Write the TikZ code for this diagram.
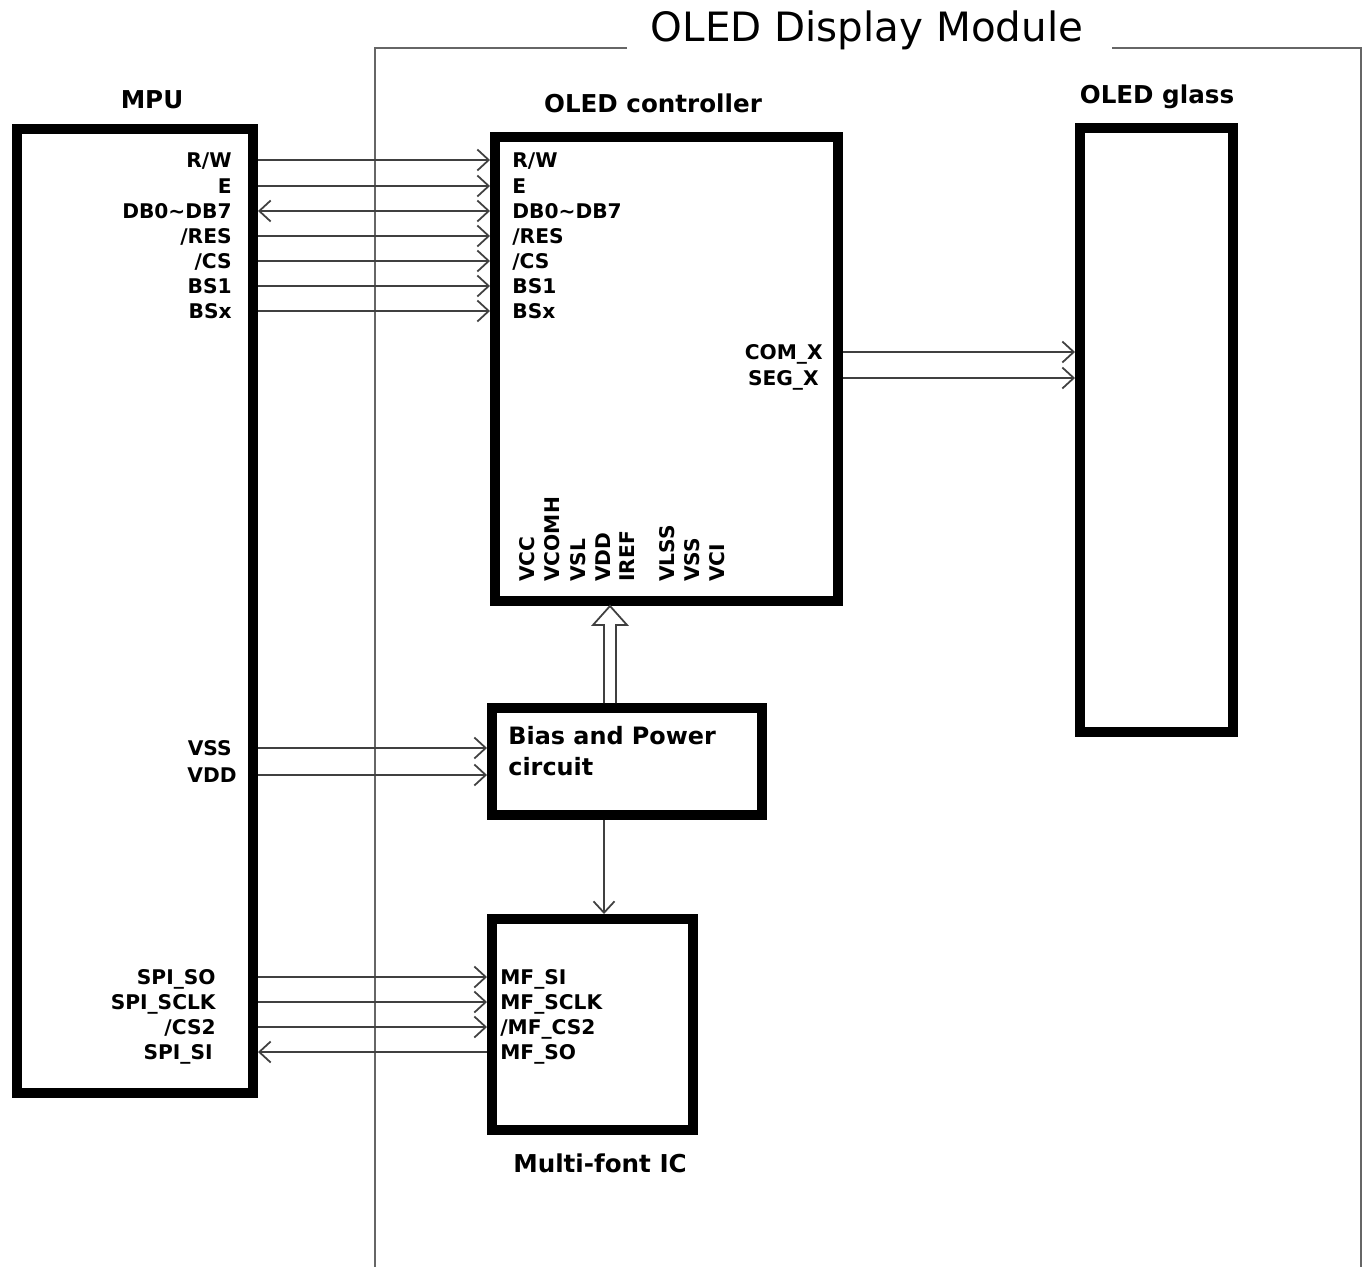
\documentclass[tikz,border=0pt]{standalone}
\usepackage{fontspec}
\setmainfont{DejaVu Sans}
\usepackage{tikz}
\usetikzlibrary{arrows.meta,calc}

\begin{document}
\begin{tikzpicture}[x=0.02cm,y=-0.02cm,
  box/.style={draw,line width=0.2cm,rectangle,inner sep=0pt},
  pin/.style={inner sep=0pt,font=\fontsize{11.5}{13}\selectfont\bfseries,text height=8.4pt,text depth=0pt},
  vpin/.style={pin,rotate=90,anchor=west},
  head/.style={inner sep=0pt,font=\fontsize{14}{16}\selectfont\bfseries},
  sig/.style={draw=black!75,line width=1pt},
  barb/.tip={Straight Barb[length=6.5pt,width=12pt]},
  frame/.style={draw=black!60,line width=1.2pt}]
\useasboundingbox (0,0) rectangle (1367,1267);
% module frame
\node[inner sep=0pt,font=\fontsize{23}{26}\selectfont] (title) at (867,30) {OLED Display Module};
\draw[frame] (627,48) -- (375,48) -- (375,1267);
\draw[frame] (1112,48) -- (1361,48) -- (1361,1267);
% blocks
\node[box,minimum width=4.72cm,minimum height=19.28cm] (mpu) at (135,611) {};
\node[box,minimum width=6.86cm,minimum height=9.28cm] (ctrl) at (666.5,369) {};
\node[box,minimum width=3.06cm,minimum height=12.08cm] (glass) at (1156.5,430) {};
\node[box,minimum width=5.4cm,minimum height=2.14cm] (bias) at (627,761.5) {};
\node[box,minimum width=4.02cm,minimum height=4.22cm] (mf) at (592.5,1024.5) {};
\node[head] (mpulbl) at (152,100) {MPU};
\node[head] (ctrllbl) at (653,103) {OLED controller};
\node[head] (glasslbl) at (1157,97) {OLED glass};
\node[head] (mflbl) at (600,1163) {Multi-font IC};
\node[inner sep=0pt,anchor=north west,align=left,font=\fontsize{13.6}{17.6}\selectfont\bfseries] (biastxt) at (508,726) {Bias and Power\\circuit};
% MPU <-> controller
\node[pin,anchor=east] (mrw) at (232,160) {R/W};
\node[pin,anchor=east] (me) at (232,186) {E};
\node[pin,anchor=east] (mdb) at (232,211) {DB0\textasciitilde DB7};
\node[pin,anchor=east] (mres) at (232,236) {/RES};
\node[pin,anchor=east] (mcs) at (232,261) {/CS};
\node[pin,anchor=east] (mbs1) at (232,286) {BS1};
\node[pin,anchor=east] (mbsx) at (232,311) {BSx};
\node[pin,anchor=west] (crw) at (512,160) {R/W};
\node[pin,anchor=west] (ce) at (512,186) {E};
\node[pin,anchor=west] (cdb) at (512,211) {DB0\textasciitilde DB7};
\node[pin,anchor=west] (cres) at (512,236) {/RES};
\node[pin,anchor=west] (ccs) at (512,261) {/CS};
\node[pin,anchor=west] (cbs1) at (512,286) {BS1};
\node[pin,anchor=west] (cbsx) at (512,311) {BSx};
\foreach \s in {mrw,me,mres,mcs,mbs1,mbsx}
  \draw[sig,-barb] (mpu.east |- \s) -- (ctrl.west |- \s);
\draw[sig,barb-barb] (mpu.east |- mdb) -- (ctrl.west |- mdb);
% controller -> glass
\node[pin,anchor=east] (com) at (823,352) {COM\_X};
\node[pin,anchor=east] (seg) at (819,378) {SEG\_X};
\draw[sig,-barb] (ctrl.east |- com) -- (glass.west |- com);
\draw[sig,-barb] (ctrl.east |- seg) -- (glass.west |- seg);
% power pins
\node[vpin] (vcc) at (527,582) {VCC};
\node[vpin] (vcomh) at (552,582) {VCOMH};
\node[vpin] (vsl) at (578,582) {VSL};
\node[vpin] (vdd) at (603,582) {VDD};
\node[vpin] (iref) at (627,582) {IREF};
\node[vpin] (vlss) at (667,582) {VLSS};
\node[vpin] (vss) at (692,582) {VSS};
\node[vpin] (vci) at (717,582) {VCI};
\coordinate (pwr) at ($(bias.north)+(-17,0)$);
\draw[sig,line join=miter] (pwr) ++(-6,0) -- ++(0,-78) -- ++(-11,0) -- ++(17,-19) -- ++(17,19) -- ++(-11,0) -- ++(0,78);
% MPU -> bias
\node[pin,anchor=east] (mvss) at (232,748) {VSS};
\node[pin,anchor=east] (mvdd) at (237,775) {VDD};
\draw[sig,-barb] (mpu.east |- mvss) -- (bias.west |- mvss);
\draw[sig,-barb] (mpu.east |- mvdd) -- (bias.west |- mvdd);
\coordinate (bm) at ($(bias.south)+(-23,0)$);
\draw[sig,-barb] (bm) -- (bm |- mf.north);
% MPU <-> multi-font IC
\node[pin,anchor=east] (mso) at (216,977) {SPI\_SO};
\node[pin,anchor=east] (msclk) at (216,1002) {SPI\_SCLK};
\node[pin,anchor=east] (mcs2) at (216,1027) {/CS2};
\node[pin,anchor=east] (msi) at (213,1052) {SPI\_SI};
\node[pin,anchor=west] (fsi) at (500,977) {MF\_SI};
\node[pin,anchor=west] (fsclk) at (500,1002) {MF\_SCLK};
\node[pin,anchor=west] (fcs2) at (500,1027) {/MF\_CS2};
\node[pin,anchor=west] (fso) at (500,1052) {MF\_SO};
\foreach \s in {mso,msclk,mcs2}
  \draw[sig,-barb] (mpu.east |- \s) -- (mf.west |- \s);
\draw[sig,barb-] (mpu.east |- msi) -- (mf.west |- msi);
\end{tikzpicture}
\end{document}
